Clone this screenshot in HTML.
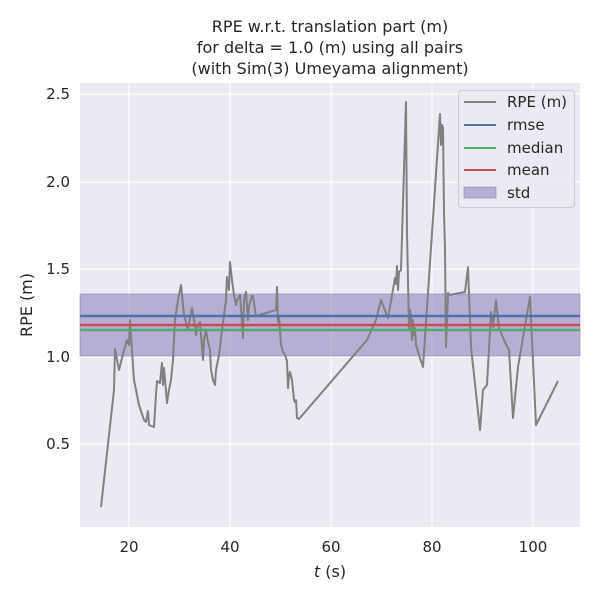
<!DOCTYPE html>
<html><head><meta charset="utf-8"><style>
html,body{margin:0;padding:0;background:#fff;}
svg{display:block;font-family:"DejaVu Sans","Liberation Sans",sans-serif;}
</style></head><body>
<svg width="600" height="600" viewBox="0 0 600 600" xmlns="http://www.w3.org/2000/svg">
<rect width="600" height="600" fill="#fff"/>
<rect x="80" y="83" width="500" height="444" fill="#eaeaf2"/>
<g stroke="#fff" stroke-width="1.2">
<line x1="129" y1="83" x2="129" y2="527"/><line x1="230" y1="83" x2="230" y2="527"/>
<line x1="331" y1="83" x2="331" y2="527"/><line x1="432" y1="83" x2="432" y2="527"/>
<line x1="533" y1="83" x2="533" y2="527"/>
<line x1="80" y1="94" x2="580" y2="94"/><line x1="80" y1="182" x2="580" y2="182"/>
<line x1="80" y1="269" x2="580" y2="269"/><line x1="80" y1="357" x2="580" y2="357"/>
<line x1="80" y1="444" x2="580" y2="444"/>
</g>
<rect x="80" y="294" width="500" height="62" fill="#8172b3" fill-opacity="0.5" stroke="#8172b3" stroke-opacity="0.5"/>
<polyline fill="none" stroke="#808080" stroke-width="2" stroke-linejoin="round" points="101,507 114,390 115,349 119,370 124,350 127,340 129,345 130,320 132,351 134,380 139,405 144,420 146,422 148,411 149,425 154,427 156,394 157,381 160,383 162,363 163,385 164,368 167,403 169,390 171,380 173,360 175,320 178,300 181,285 184,315 188,330 190,317 192,308 194,320 196,335 198,325 200,322 203,360 204,340 206,330 208,342 210,350 211,370 213,380 215,385 216,370 219,355 222,330 226,300 227,277 229,290 230,262 232,280 234,295 236,305 237,300 240,295 243,338 244,300 246,292 248,320 249,306 252,296 253,296 256,316 276,310 277,287 278,322 279,316 281,345 283,352 285,355 287,361 288,388 289,375 290,372 292,380 294,400 295,402 296,400 297,418 299,419 367,340 376,320 381,300 384,308 388,318 395,278 396,284 397,266 398,290 399,272 401,270 406,102 407,233 409,329 410,310 411,315 412,340 413,320 414,335 415,328 416,345 419,355 423,367 440,114 441,145 442,125 443,128 444,212 445,250 446,347 448,293 449,295 465,292 468,267 471,347 480,430 483,390 487,385 491,312 493,327 496,300 499,328 504,340 509,350 513,418 518,367 530,297 536,425 558,381"/>
<line x1="80" y1="316" x2="580" y2="316" stroke="#4c72b0" stroke-width="2.5"/>
<line x1="80" y1="325" x2="580" y2="325" stroke="#c44e52" stroke-width="2.5"/>
<line x1="80" y1="330" x2="580" y2="330" stroke="#55a868" stroke-width="2.5"/>
<g fill="#262626" font-size="15">
<g text-anchor="middle">
<text x="129" y="552">20</text><text x="230" y="552">40</text><text x="331" y="552">60</text><text x="432" y="552">80</text><text x="533" y="552">100</text>
</g>
<g text-anchor="end">
<text x="70" y="99">2.5</text><text x="70" y="187">2.0</text><text x="70" y="274">1.5</text><text x="70" y="362">1.0</text><text x="70" y="449">0.5</text>
</g>
<text x="330" y="577" text-anchor="middle" font-size="16"><tspan font-style="italic">t</tspan> (s)</text>
<text transform="translate(32,305) rotate(-90)" text-anchor="middle" font-size="16">RPE (m)</text>
<g text-anchor="middle" font-size="16">
<text x="330" y="32">RPE w.r.t. translation part (m)</text>
<text x="330" y="53">for delta = 1.0 (m) using all pairs</text>
<text x="330" y="74">(with Sim(3) Umeyama alignment)</text>
</g>
</g>
<rect x="458.5" y="90.5" width="116" height="117" rx="3" fill="#eaeaf2" fill-opacity="0.8" stroke="#cccccc"/>
<line x1="464" y1="102" x2="496" y2="102" stroke="#808080" stroke-width="2"/>
<line x1="464" y1="125" x2="496" y2="125" stroke="#4c72b0" stroke-width="2"/>
<line x1="464" y1="148" x2="496" y2="148" stroke="#55a868" stroke-width="2"/>
<line x1="464" y1="170" x2="496" y2="170" stroke="#c44e52" stroke-width="2"/>
<rect x="464" y="187" width="32" height="11" fill="#8172b3" fill-opacity="0.5" stroke="#8172b3" stroke-opacity="0.5"/>
<g fill="#262626" font-size="15">
<text x="507" y="107">RPE (m)</text><text x="507" y="130">rmse</text><text x="507" y="153">median</text><text x="507" y="175">mean</text><text x="507" y="198">std</text>
</g>
</svg>
</body></html>
